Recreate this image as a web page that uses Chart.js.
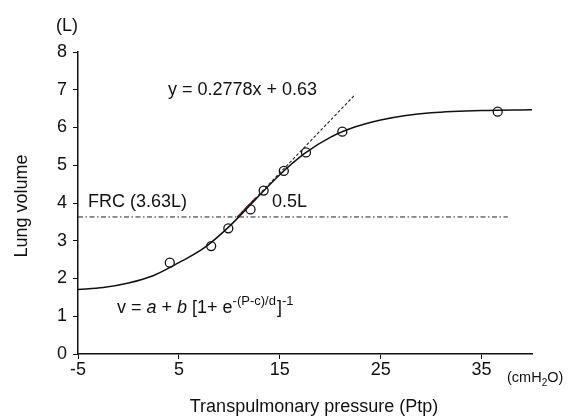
<!DOCTYPE html>
<html>
<head>
<meta charset="utf-8">
<script src="https://cdn.jsdelivr.net/npm/chart.js@4.4.1/dist/chart.umd.min.js"></script>
<style>
  body { margin: 0; background: #fff; }
  canvas { display: block; }
</style>
</head>
<body>
<canvas id="lungChart" width="569" height="417"></canvas>
<script>
// measured points (Ptp in cmH2O, volume in L)
const pressure = [4.1, 8.2, 9.9, 12.1, 13.4, 15.4, 17.6, 21.2, 36.6];
const volume = [2.42, 2.86, 3.33, 3.83, 4.33, 4.85, 5.34, 5.89, 6.42];

// sigmoid fit curve
const fitP = [-5, -2.5, 0, 2.5, 5, 7.5, 10, 12.5, 15, 17.5, 20, 22.5, 25, 27.5, 30, 35, 40];
const fitV = [1.71, 1.76, 1.88, 2.08, 2.42, 2.81, 3.38, 4.07, 4.75, 5.32, 5.74, 6.02, 6.2, 6.32, 6.39, 6.45, 6.47];

// tangent line y = 0.2778x + 0.63
const tangentP = [10.8, 22.5];
const tangentV = [3.63, 6.88];

// FRC level
const frcP = [-5, 37.6];
const frcV = [3.63, 3.63];

// FRC -> FRC + 0.5L segment
const segP = [10.8, 12.6];
const segV = [3.63, 4.13];

const xTicks = [-5, 5, 15, 25, 35];
const yTicks = [0, 1, 2, 3, 4, 5, 6, 7, 8];

const FONT = "'Liberation Sans', Arial, sans-serif";

function pts(xs, ys) {
    return xs.map((x, i) => ({ x: x, y: ys[i] }));
}

// extra texts drawn on top
const textPlugin = {
    id: "texts",
    afterDraw(chart) {
        const ctx = chart.ctx;
        ctx.save();
        ctx.fillStyle = "#111";
        ctx.textBaseline = "middle";

        ctx.font = "18px " + FONT;
        ctx.textAlign = "center";
        ctx.fillText("(L)", 67, 26);
        ctx.fillText("Transpulmonary pressure (Ptp)", 314, 407);

        ctx.textAlign = "left";
        ctx.fillText("y = 0.2778x + 0.63", 168, 90);
        ctx.fillText("FRC (3.63L)", 88, 202);
        ctx.fillText("0.5L", 272, 202);

        // equation
        let x = 117;
        const base = 313;
        ctx.textBaseline = "alphabetic";
        const parts = [
            ["v = ", "18px", 0],
            ["a", "italic 18px", 0],
            [" + ", "18px", 0],
            ["b", "italic 18px", 0],
            [" [1+ e", "18px", 0],
            ["-(P-c)/d", "13px", -8],
            ["]", "18px", 0],
            ["-1", "13px", -8]
        ];
        parts.forEach(p => {
            ctx.font = p[1] + " " + FONT;
            ctx.fillText(p[0], x, base + p[2]);
            x += ctx.measureText(p[0]).width + (p[1] === "13px" ? 1 : 0);
        });

        // unit
        ctx.textBaseline = "middle";
        ctx.font = "14.5px " + FONT;
        x = 507;
        ctx.fillText("(cmH", x, 378);
        x += ctx.measureText("(cmH").width;
        ctx.font = "10px " + FONT;
        ctx.fillText("2", x, 383);
        x += ctx.measureText("2").width;
        ctx.font = "14.5px " + FONT;
        ctx.fillText("O)", x, 378);

        // y title
        ctx.font = "18px " + FONT;
        ctx.textAlign = "center";
        ctx.translate(22, 206);
        ctx.rotate(-Math.PI / 2);
        ctx.fillText("Lung volume", 0, 0);
        ctx.restore();
    }
};

const ctx = document.getElementById("lungChart").getContext("2d");

new Chart(ctx, {
    type: "scatter",
    data: {
        datasets: [
            {
                data: pts(frcP, frcV),
                showLine: true,
                borderColor: "#222",
                borderWidth: 1,
                borderDash: [5, 2.5, 1.5, 2.5],
                pointRadius: 0
            },
            {
                data: pts(tangentP, tangentV),
                showLine: true,
                borderColor: "#222",
                borderWidth: 1.1,
                borderDash: [3, 2],
                pointRadius: 0
            },
            {
                data: pts(fitP, fitV),
                showLine: true,
                borderColor: "#111",
                borderWidth: 1.5,
                cubicInterpolationMode: "monotone",
                pointRadius: 0
            },
            {
                data: pts(segP, segV),
                showLine: true,
                borderColor: "#a03030",
                borderWidth: 1.5,
                pointRadius: 0
            },
            {
                data: pts(pressure, volume),
                showLine: false,
                pointRadius: 4.5,
                pointBorderWidth: 1.3,
                pointBorderColor: "#111",
                pointBackgroundColor: "#fff"
            }
        ]
    },
    options: {
        responsive: false,
        animation: false,
        layout: { padding: { left: 38, right: 37, top: 52, bottom: 0 } },
        plugins: {
            legend: { display: false },
            tooltip: { enabled: false }
        },
        scales: {
            x: {
                type: "linear",
                min: -5,
                max: 40,
                afterBuildTicks: s => { s.ticks = xTicks.map(v => ({ value: v })); },
                afterFit: s => { s.height = 63; },
                grid: {
                    drawOnChartArea: false,
                    drawTicks: true,
                    tickLength: 5,
                    color: "#111"
                },
                border: { color: "#111", width: 1.5 },
                ticks: {
                    color: "#111",
                    padding: 0,
                    maxRotation: 0,
                    font: { family: FONT, size: 18 }
                }
            },
            y: {
                type: "linear",
                min: 0,
                max: 8,
                afterBuildTicks: s => { s.ticks = yTicks.map(v => ({ value: v })); },
                afterFit: s => { s.width = 40; },
                grid: {
                    drawOnChartArea: false,
                    drawTicks: true,
                    tickLength: 5,
                    color: "#111"
                },
                border: { color: "#111", width: 1.5 },
                ticks: {
                    color: "#111",
                    padding: 6,
                    font: { family: FONT, size: 18 }
                }
            }
        }
    },
    plugins: [textPlugin]
});
</script>
</body>
</html>
